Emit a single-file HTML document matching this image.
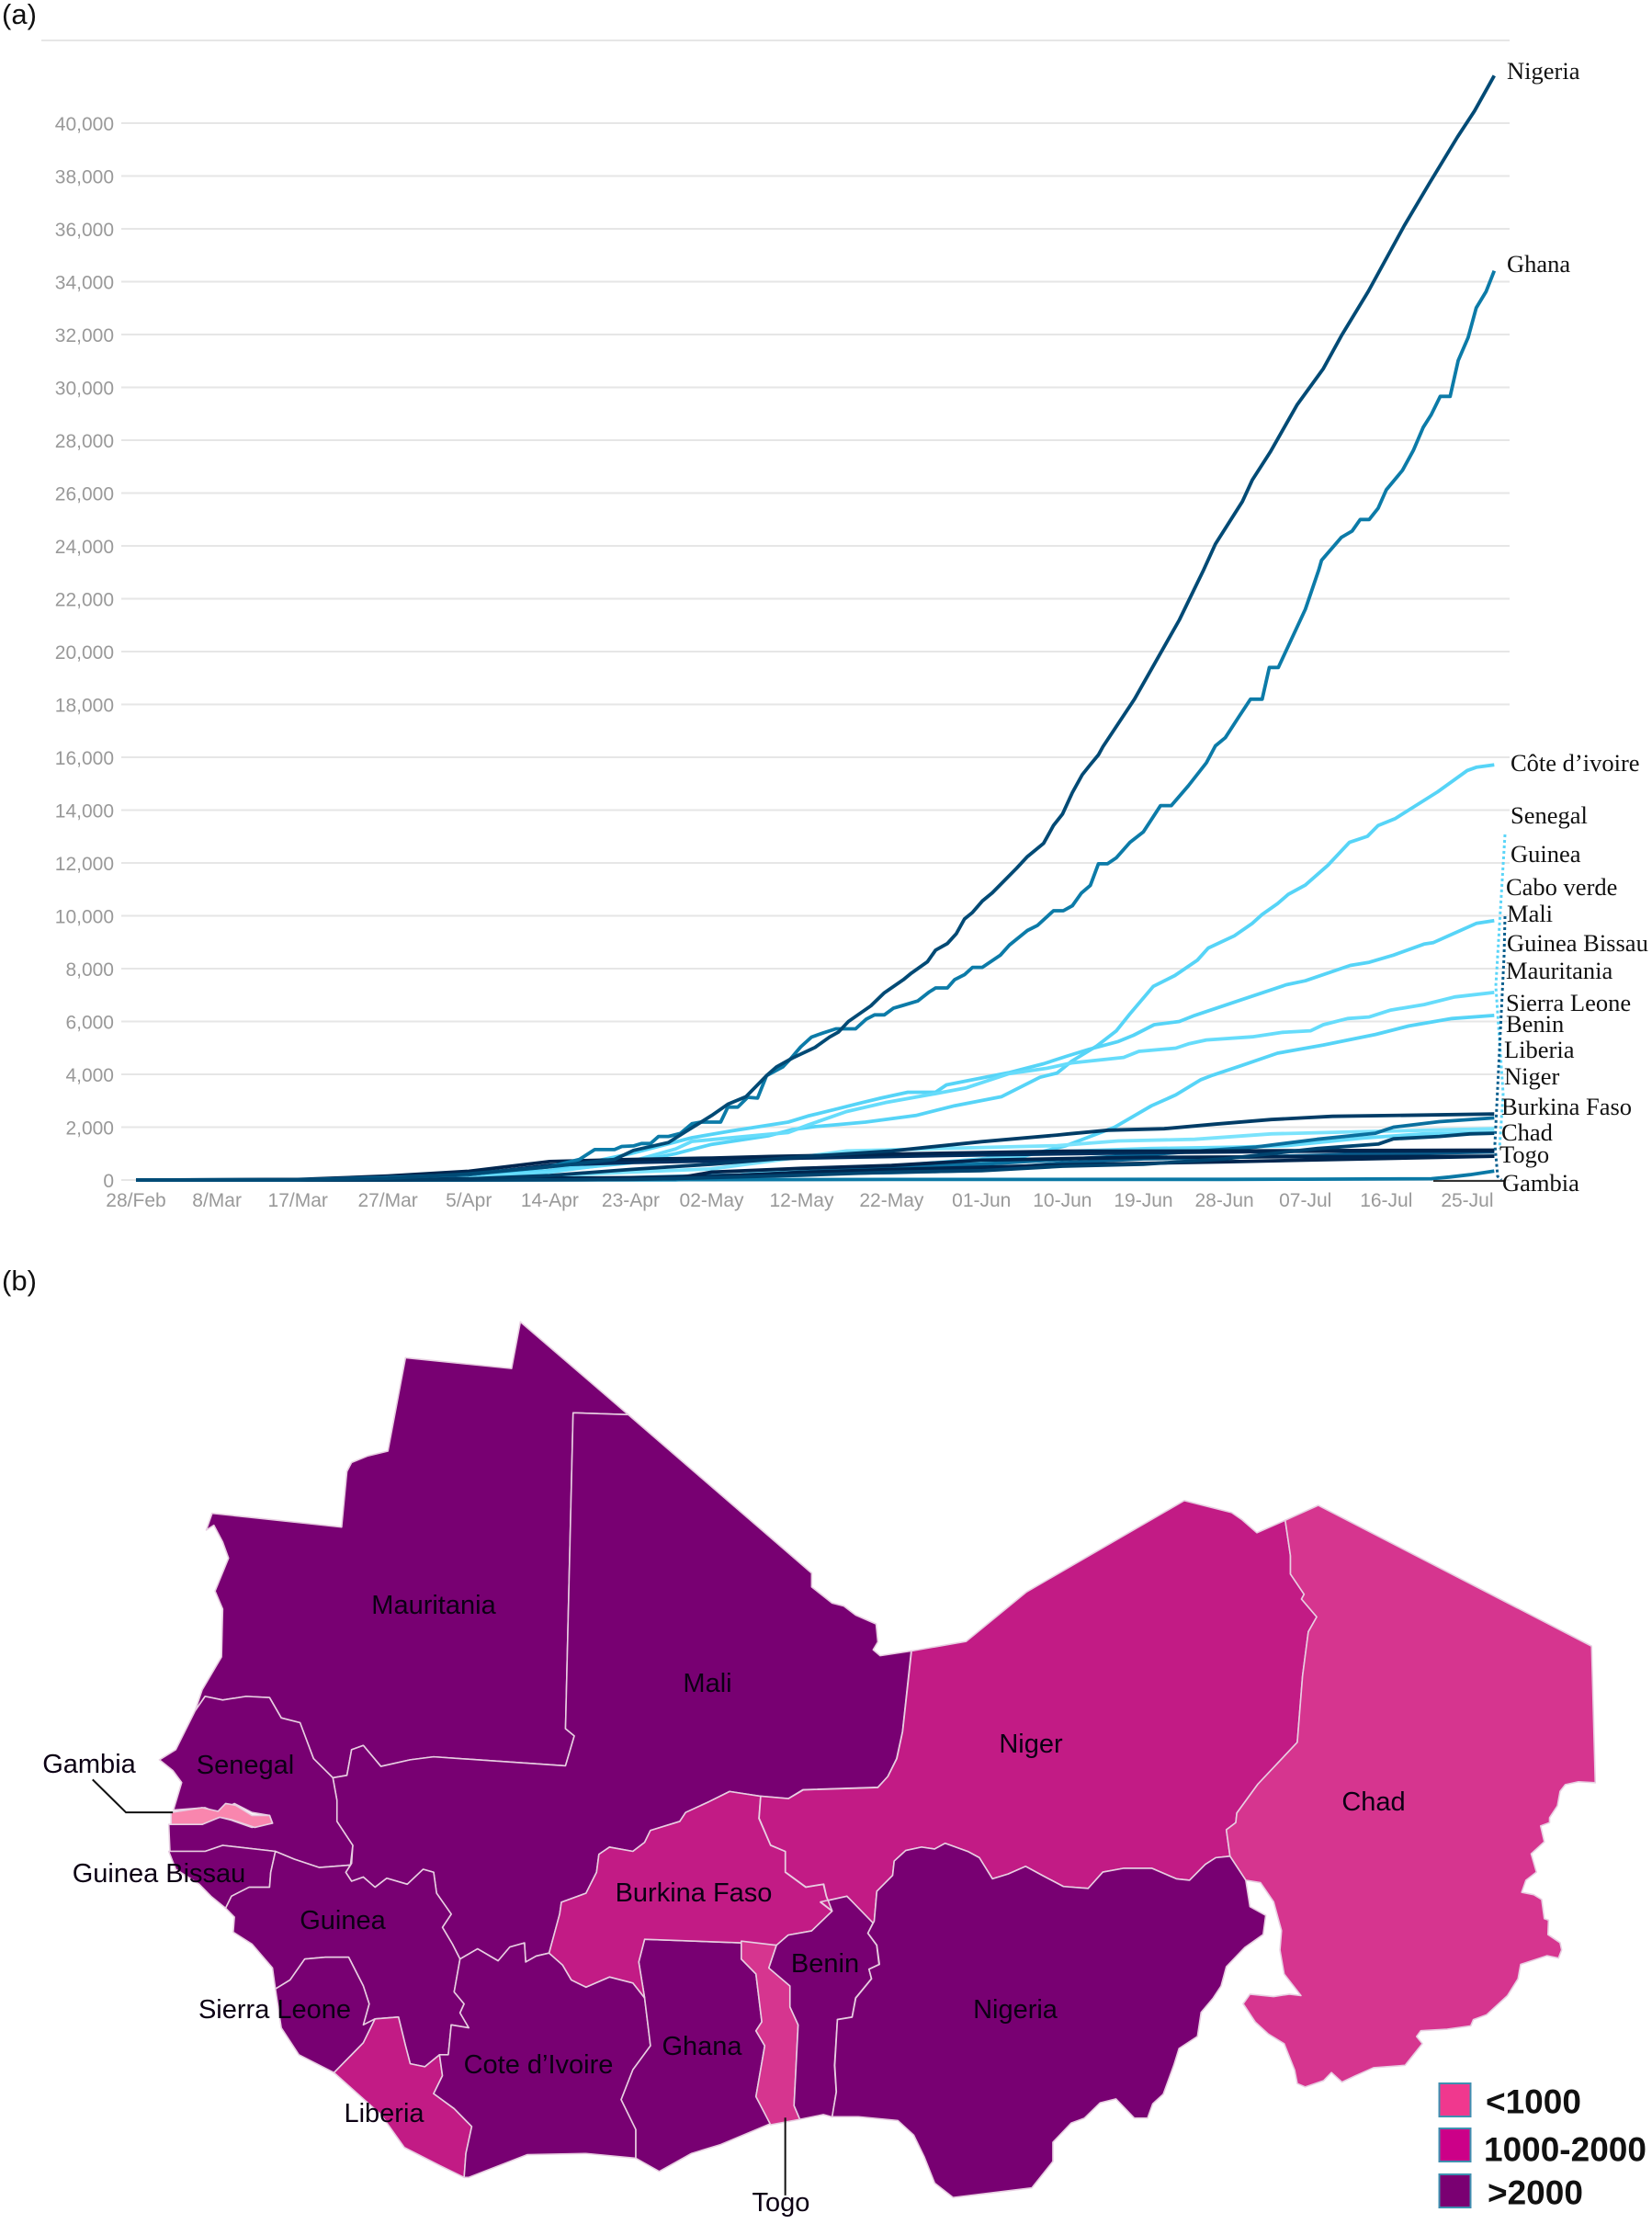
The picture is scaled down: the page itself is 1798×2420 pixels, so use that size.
<!DOCTYPE html>
<html lang="en">
<head>
<meta charset="utf-8">
<title>COVID-19 cases in West Africa</title>
<style>
html,body{margin:0;padding:0;background:#fff;}
svg{display:block;}
.panel{font-family:"Liberation Sans",sans-serif;font-size:31px;fill:#111;}
.tick{font-family:"Liberation Sans",sans-serif;font-size:21px;fill:#999;}
.end{font-family:"Liberation Serif",serif;font-size:26.5px;fill:#111;dominant-baseline:central;}
.ml{font-family:"Liberation Sans",sans-serif;font-size:29px;fill:#0c0014;text-anchor:middle;dominant-baseline:central;}
.lg{font-family:"Liberation Sans",sans-serif;font-size:37px;font-weight:bold;fill:#111;dominant-baseline:central;}
.c{stroke:#e8cfe2;stroke-width:1.6;vector-effect:non-scaling-stroke;stroke-linejoin:round;}
.g{fill:none;stroke:#111;stroke-width:2;vector-effect:non-scaling-stroke;}
.dark{fill:#780072;}.mid{fill:#c21b85;}.low{fill:#d6358f;}
</style>
</head>
<body>
<svg id="fig" xmlns="http://www.w3.org/2000/svg" width="1798" height="2420" viewBox="0 0 1798 2420">
<rect width="1798" height="2420" fill="#fff"/>
<text class="panel" x="2" y="26">(a)</text>
<text class="panel" x="2" y="1404">(b)</text>

<g id="chart"></g>

<g fill="none" stroke-width="3" stroke-dasharray="3 3">
<path d="M1638,908 L1628,1073 L1636,1190 L1632,1250" stroke="#5ad5f8"/>
<path d="M1638,997 L1637,1040 L1627,1245 L1630,1280 L1634,1284" stroke="#0a5f8e"/>
</g>
<line x1="1560" y1="1285" x2="1638" y2="1285" stroke="#333" stroke-width="2"/>

<g>
<text class="end" x="1640" y="77">Nigeria</text>
<text class="end" x="1640" y="287">Ghana</text>
<text class="end" x="1644" y="830">Côte d’ivoire</text>
<text class="end" x="1644" y="887">Senegal</text>
<text class="end" x="1644" y="929">Guinea</text>
<text class="end" x="1639" y="965">Cabo verde</text>
<text class="end" x="1640" y="994">Mali</text>
<text class="end" x="1640" y="1026">Guinea Bissau</text>
<text class="end" x="1639" y="1056">Mauritania</text>
<text class="end" x="1639" y="1091">Sierra Leone</text>
<text class="end" x="1639" y="1114">Benin</text>
<text class="end" x="1637" y="1142">Liberia</text>
<text class="end" x="1637" y="1171">Niger</text>
<text class="end" x="1634" y="1204">Burkina Faso</text>
<text class="end" x="1634" y="1232">Chad</text>
<text class="end" x="1632" y="1256">Togo</text>
<text class="end" x="1635" y="1287">Gambia</text>
</g>

<g>
<g transform="translate(0,1399.3) scale(.6378,.651)">
<polygon class="c dark" points="888,60 1072,215 978,212 965,740 980,752 965,802 740,787 700,792 650,803 620,768 600,775 592,818 568,822 535,790 512,730 480,722 460,688 420,686 380,692 350,686 333,710 345,675 378,620 380,540 367,510 390,455 380,428 365,400 352,408 362,380 583,403 592,310 600,295 628,284 662,276 692,120 873,138"/>
<polygon class="c dark" points="978,212 1072,215 1385,480 1385,503 1420,530 1440,535 1460,550 1495,565 1498,595 1490,608 1502,618 1555,610 1540,745 1530,790 1515,820 1498,838 1370,842 1345,857 1298,853 1245,845 1210,862 1170,880 1160,895 1110,910 1100,930 1080,945 1040,938 1022,950 1018,980 1000,1015 958,1030 955,1050 937,1115 915,1120 897,1130 895,1098 870,1105 850,1128 815,1108 785,1125 772,1100 755,1072 770,1050 745,1015 740,980 722,975 695,1000 660,990 640,1005 620,988 600,995 590,980 600,965 602,935 575,895 575,860 568,822 592,818 600,775 620,768 650,803 700,792 740,787 965,802 980,752 965,740"/>
<polygon class="c dark" points="350,686 380,692 420,686 460,688 480,722 512,730 535,790 568,822 575,860 575,895 602,935 598,968 545,972 502,958 470,945 380,935 350,945 290,945 288,900 345,900 345,898 375,888 395,893 430,905 465,898 460,885 430,880 400,865 370,880 350,872 296,876 310,830 295,810 272,792 300,775 333,710"/>
<polygon class="c" fill="#f986ae" points="292,880 345,872 372,878 385,865 402,868 430,885 460,885 465,898 435,905 395,892 375,888 345,900 292,900"/>
<polygon class="c dark" points="288,945 350,945 380,935 470,945 462,980 460,1005 425,1005 395,1020 385,1040 360,1020 340,1000 300,975"/>
<polygon class="c dark" points="385,1040 395,1020 425,1005 460,1005 462,980 470,945 502,958 545,972 598,968 590,980 600,995 620,988 640,1005 660,990 695,1000 722,975 740,980 745,1015 770,1050 755,1072 772,1100 785,1125 775,1180 792,1200 785,1215 800,1240 770,1235 765,1285 750,1285 725,1305 700,1300 692,1270 680,1222 640,1225 620,1235 630,1200 620,1170 595,1122 555,1122 520,1125 495,1160 470,1175 465,1140 430,1100 398,1080 400,1055"/>
<polygon class="c dark" points="470,1175 495,1160 520,1125 555,1122 595,1122 620,1170 630,1200 620,1235 640,1225 620,1265 570,1315 510,1285 480,1240"/>
<polygon class="c mid" points="570,1315 620,1265 640,1225 680,1222 692,1270 700,1300 725,1305 750,1285 755,1320 740,1350 775,1375 805,1405 795,1450 792,1490 750,1470 690,1440 650,1385"/>
<polygon class="c dark" points="785,1125 815,1108 850,1128 870,1105 895,1098 897,1130 915,1120 937,1115 960,1135 975,1160 1000,1172 1040,1155 1080,1165 1100,1190 1110,1270 1080,1310 1060,1360 1085,1410 1085,1458 1000,1450 900,1452 800,1490 792,1490 795,1450 805,1405 775,1375 740,1350 755,1320 750,1285 765,1285 770,1235 800,1240 785,1215 792,1200 775,1180"/>
<polygon class="c dark" points="1100,1092 1265,1098 1265,1125 1290,1150 1300,1230 1290,1245 1305,1270 1290,1355 1315,1400 1230,1435 1180,1450 1125,1480 1085,1458 1085,1410 1060,1360 1080,1310 1110,1270 1100,1190 1090,1130"/>
<polygon class="c mid" points="937,1115 955,1050 958,1030 1000,1015 1018,980 1022,950 1040,938 1080,945 1100,930 1110,910 1160,895 1170,880 1210,862 1245,845 1298,853 1295,890 1315,935 1340,945 1340,980 1375,1005 1405,1000 1410,1020 1420,1045 1385,1078 1345,1085 1325,1102 1265,1098 1100,1092 1090,1130 1100,1190 1080,1165 1040,1155 1000,1172 975,1160 960,1135"/>
<polygon class="c low" points="1265,1095 1325,1102 1312,1140 1348,1170 1348,1205 1362,1235 1355,1370 1365,1393 1315,1402 1290,1355 1305,1270 1290,1245 1300,1230 1290,1150 1265,1125"/>
<polygon class="c dark" points="1325,1102 1345,1085 1385,1078 1420,1045 1400,1030 1445,1020 1491,1062 1481,1082 1496,1102 1500,1134 1483,1142 1487,1158 1460,1190 1454,1222 1429,1226 1424,1303 1427,1347 1420,1389 1405,1385 1365,1393 1355,1370 1362,1235 1348,1205 1348,1170 1312,1140"/>
<path class="g" d="M158,825 L215,880 L295,880"/>
<path class="g" d="M1340,1390 L1340,1520"/>
</g>
<g transform="translate(900,1598.8) scale(.572,.523)">
<polygon class="c mid" points="161,378 265,358 380,255 680,65 770,90 790,105 818,132 872,106 882,180 882,218 908,260 903,270 932,307 916,338 905,430 895,568 820,655 780,715 778,735 760,750 767,805 740,808 720,822 690,855 665,852 618,830 565,830 525,838 497,872 450,868 410,845 378,826 345,842 315,852 290,808 268,795 225,778 205,790 180,786 150,793 128,815 125,845 95,878 90,940 88,944 38,888 -12,900 10,919 -1,888 -6,863 -40,869 -79,838 -79,795 -107,782 -129,726 -126,680 -73,685 -45,667 97,662 116,639 133,602 144,546"/>
<polygon class="c low" points="872,106 935,75 1455,368 1462,652 1430,650 1405,656 1395,670 1390,700 1375,725 1375,735 1358,742 1365,775 1340,800 1350,838 1330,855 1322,880 1345,885 1360,895 1365,935 1373,938 1372,968 1395,985 1398,1000 1392,1017 1370,1012 1320,1030 1315,1060 1295,1095 1255,1135 1230,1145 1225,1158 1180,1165 1130,1168 1122,1180 1133,1195 1100,1240 1040,1245 1005,1262 980,1275 960,1255 945,1272 910,1285 895,1278 890,1250 870,1195 840,1175 815,1150 792,1112 805,1092 850,1097 880,1092 902,1095 870,1050 862,1000 865,960 850,900 825,860 797,855 767,805 760,750 778,735 780,715 820,655 895,568 905,430 916,338 932,307 903,270 908,260 882,218 882,180"/>
<polygon class="c dark" points="90,940 95,878 125,845 128,815 150,793 180,786 205,790 225,778 268,795 290,808 315,852 345,842 378,826 410,845 450,868 497,872 525,838 565,830 618,830 665,852 690,855 720,822 740,808 767,805 797,855 805,910 835,928 830,968 795,995 760,1035 750,1075 735,1100 712,1130 705,1180 670,1205 660,1240 640,1300 620,1320 610,1350 585,1350 550,1310 520,1318 490,1350 465,1360 430,1400 430,1440 390,1495 315,1505 240,1515 205,1485 185,1430 165,1385 135,1355 60,1347 10,1347 18,1295 15,1240 20,1145 48,1140 55,1100 85,1060 80,1040 100,1030 95,990 78,965"/>
</g>
<g>
<text class="ml" x="472" y="1747">Mauritania</text>
<text class="ml" x="770" y="1832">Mali</text>
<text class="ml" x="1122" y="1898">Niger</text>
<text class="ml" x="1495" y="1961">Chad</text>
<text class="ml" x="267" y="1921">Senegal</text>
<text class="ml" x="97" y="1920">Gambia</text>
<text class="ml" x="173" y="2039">Guinea Bissau</text>
<text class="ml" x="373" y="2090">Guinea</text>
<text class="ml" x="755" y="2060">Burkina Faso</text>
<text class="ml" x="898" y="2137">Benin</text>
<text class="ml" x="299" y="2187">Sierra Leone</text>
<text class="ml" x="764" y="2227">Ghana</text>
<text class="ml" x="1105" y="2187">Nigeria</text>
<text class="ml" x="586" y="2247">Cote d’Ivoire</text>
<text class="ml" x="418" y="2300">Liberia</text>
<text class="ml" x="850" y="2397">Togo</text>
</g>
<g>
<rect x="1566.500" y="2267" width="34" height="36" fill="#f0388e" stroke="#3f8fb0" stroke-width="2"/>
<rect x="1566.500" y="2316" width="34" height="36" fill="#cc0088" stroke="#3f8fb0" stroke-width="2"/>
<rect x="1566.500" y="2366" width="34" height="36" fill="#7a0072" stroke="#3f8fb0" stroke-width="2"/>
<text class="lg" x="1617" y="2287">&lt;1000</text>
<text class="lg" x="1615" y="2339">1000-2000</text>
<text class="lg" x="1619" y="2386">&gt;2000</text>
</g>
</g>
</svg>
<script>
const xTickDays = [0,9,18,28,37,46,55,64,74,84,94,103,112,121,130,139,148];
const xTickLabels = ["28/Feb","8/Mar","17/Mar","27/Mar","5/Apr","14-Apr","23-Apr","02-May","12-May","22-May","01-Jun","10-Jun","19-Jun","28-Jun","07-Jul","16-Jul","25-Jul"];
const yTicks = [0,2000,4000,6000,8000,10000,12000,14000,16000,18000,20000,22000,24000,26000,28000,30000,32000,34000,36000,38000,40000];

const coteDivoireDays = [0,18,28,37,46,55,60,64,70.4,73,75.5,81.1,86.7,91,96.2,100.5,102.4,104,106.8,109,110.5,113.1,115.5,118,119.2,122.1,124.1,125.2,126.9,128.1,130,132.5,134.9,136.9,138.1,140,142,144.7,148,149,151];
const coteDivoireCases = [0,10,60,150,350,650,1000,1350,1680,1910,2020,2190,2440,2810,3150,3890,4050,4490,5070,5650,6290,7330,7740,8320,8780,9240,9710,10050,10460,10810,11160,11910,12780,13010,13420,13680,14110,14690,15500,15620,15710];
const senegalDays = [0,18,28,37,46,55,61.8,66.1,72.5,74.7,77.7,80.7,82.8,85.8,88.9,90.1,92.3,97,100.9,103.4,106,109.2,110.9,113.2,116,117.7,122.8,127.9,130,135,137.1,139.8,143.2,144.2,149,151];
const senegalCases = [0,10,60,150,350,1000,1600,1850,2190,2420,2670,2930,3100,3320,3320,3600,3750,4060,4400,4680,4950,5240,5480,5880,6000,6230,6810,7390,7540,8120,8240,8510,8930,8980,9710,9820];
const guineaDays = [0,18,28,37,46,55,60,61.8,72.5,74.7,79,83.3,88.9,92.3,97,101.3,104,109.8,111.5,115.6,117,119,124.1,127.5,130.6,132,134.7,137.1,139.5,143.2,146.6,151];
const guineaCases = [0,5,40,120,300,700,1175,1460,1800,2080,2590,2930,3270,3490,4020,4230,4430,4640,4870,4990,5150,5300,5420,5590,5650,5880,6110,6170,6430,6640,6930,7100];
const mauritaniaDays = [0,46,60,70,83,92,96,103.4,108.8,112.9,115.6,118.4,119.7,122.8,126.9,132,137.8,141.5,146.3,151];
const mauritaniaCases = [0,5,8,270,500,600,670,1300,2000,2810,3220,3800,3970,4320,4800,5110,5510,5830,6110,6230];
const guineaBissauDays = [0,28,37,46,55,64,79,88,102.4,109.2,117.7,126.2,136.4,151];
const guineaBissauCases = [0,10,60,150,300,420,1100,1180,1300,1480,1540,1745,1830,1940];
const beninDays = [0,37,46,55,64,74,84,94,102.4,112.6,122.8,127.9,136.4,143.2,151];
const beninCases = [0,5,20,40,100,400,520,800,1070,1190,1250,1300,1590,1745,1800];
const caboVerdeDays = [0,37,46,55,64,74,84,94,103,112,124.5,131.3,137.8,139.8,144.9,151];
const caboVerdeCases = [0,5,15,40,100,300,500,600,780,950,1250,1540,1770,2000,2210,2350];
const gambiaDays = [0,46,84,121,130,144,146,148.3,151];
const gambiaCases = [0,9,20,25,30,50,110,203,340];
const liberiaDays = [0,28,46,55,64,74,84,94,103,112,121,139,151];
const liberiaCases = [0,2,40,90,170,240,280,370,650,800,850,1000,1060];
const togoDays = [0,28,37,46,55,64,74,84,94,103,121,130,151];
const togoCases = [0,5,30,70,85,130,290,400,480,570,690,750,900];
const chadDays = [0,28,46,60,64,74,84,94,112,130,151];
const chadCases = [0,5,30,60,300,440,550,750,860,880,900];
const nigerDays = [0,28,37,46,55,64,74,94,112,130,151];
const nigerCases = [0,20,200,560,660,720,830,950,1030,1090,1100];
const burkinaFasoDays = [0,18,28,37,46,55,64,70.4,84,103,121,139,151];
const burkinaFasoCases = [0,20,150,330,700,780,830,890,980,1090,1100,1120,1130];
const sierraLeoneDays = [0,46,55,64,74,84,94,103,112,121,131.3,138.1,139.8,144.9,148.3,151];
const sierraLeoneCases = [0,5,20,90,180,300,350,520,600,800,1190,1360,1560,1650,1745,1770];
const maliDays = [0,28,37,46,55,64,74,84,94,102.4,103.7,108.1,114.3,120,126.2,133,143.2,151];
const maliCases = [0,15,40,170,400,600,880,1100,1450,1700,1745,1885,1940,2115,2290,2410,2460,2500];
const ghanaDays = [0,9,18,28,37,46,49.3,51,53.2,54,55.3,56.2,57.2,58.1,59.2,60.5,61.8,62.8,65,65.8,66.9,68,69.1,70.1,71.9,72.8,73.9,75.1,76.4,77.8,80,81.2,82.1,83.2,84.2,85.1,86.9,88.2,88.9,90.2,91,92.1,93,94.1,96.1,97.1,99.1,100.2,102,103.1,104.1,105.1,106.1,107,108,109,110.5,112,113.9,115.1,117,119,120,121.1,122.6,123.9,125.2,126,127,130,131.5,131.8,134,135.2,136.1,137.1,138.1,139,140.8,142,143.1,144,145,146.1,147,148.1,149,150.1,151];
const ghanaCases = [0,0,8,90,210,500,780,1150,1150,1270,1290,1380,1380,1650,1650,1760,2130,2190,2190,2760,2760,3130,3100,3950,4280,4600,5040,5410,5570,5720,5720,6090,6250,6250,6500,6590,6775,7120,7270,7270,7580,7770,8050,8050,8510,8890,9445,9630,10190,10190,10380,10860,11150,11970,11970,12200,12780,13180,14170,14170,14920,15790,16430,16740,17530,18200,18200,19400,19400,21600,23100,23450,24320,24560,25000,25000,25430,26120,26860,27610,28480,28970,29660,29660,31020,31890,33010,33630,34410];
const nigeriaDays = [0,9,18,28,37,46,53.2,55.3,59.2,61.1,64,65.8,67.8,70.1,71.2,73,75.5,77.1,78.1,79.2,81.7,83.2,85.3,86.2,88,88.9,90.2,91.2,92.1,93,94.1,95.2,97.9,99.1,100.9,102,103,104.1,105.2,106.1,107,107.5,111,116,118.7,120,123,124.1,126.1,129.1,132,134,137,141,143.8,146.9,148.8,151];
const nigeriaCases = [1,1,3,65,232,500,780,1120,1420,1830,2440,2870,3150,3950,4280,4620,5020,5410,5600,6000,6590,7085,7580,7830,8265,8700,8950,9320,9880,10130,10560,10870,11800,12240,12740,13420,13850,14660,15340,15720,16090,16400,18200,21200,23100,24070,25680,26490,27550,29350,30710,31950,33630,36120,37730,39470,40460,41800];

const seriesNames = ["cote-divoire","senegal","guinea","mauritania","guinea-bissau","benin","cabo-verde","gambia","liberia","togo","chad","niger","burkina-faso","sierra-leone","mali","ghana","nigeria"];
const seriesDays = [coteDivoireDays,senegalDays,guineaDays,mauritaniaDays,guineaBissauDays,beninDays,caboVerdeDays,gambiaDays,liberiaDays,togoDays,chadDays,nigerDays,burkinaFasoDays,sierraLeoneDays,maliDays,ghanaDays,nigeriaDays];
const seriesCases = [coteDivoireCases,senegalCases,guineaCases,mauritaniaCases,guineaBissauCases,beninCases,caboVerdeCases,gambiaCases,liberiaCases,togoCases,chadCases,nigerCases,burkinaFasoCases,sierraLeoneCases,maliCases,ghanaCases,nigeriaCases];
const seriesColors = ["#56d4f7","#56d4f7","#66dcfb","#56d4f7","#7be3fc","#66dcfb","#0a6f9e","#0a78a5","#0a5f8e","#00264f","#00264f","#003060","#00264f","#00446f","#003c66","#0c7ba8","#014a75"];

const NS = "http://www.w3.org/2000/svg";
const chart = document.getElementById("chart");
function xScale(d){ return 148 + 9.79 * d; }
function yScale(v){ return 1284 - 0.02875 * v; }

const topGrid = document.createElementNS(NS, "line");


topGrid.setAttribute("x1", 45);
topGrid.setAttribute("x2", 1643);
topGrid.setAttribute("y1", 44);
topGrid.setAttribute("y2", 44);
topGrid.setAttribute("stroke", "#e6e6e6");
topGrid.setAttribute("stroke-width", 2);
chart.appendChild(topGrid);

yTicks.forEach(function(v){
  const line = document.createElementNS(NS, "line");
  
  
  line.setAttribute("x1", 132);
  line.setAttribute("x2", 1643);
  line.setAttribute("y1", yScale(v));
  line.setAttribute("y2", yScale(v));
  line.setAttribute("stroke", "#e6e6e6");
  line.setAttribute("stroke-width", 2);
  chart.appendChild(line);
  const label = document.createElementNS(NS, "text");
  
  
  label.setAttribute("class", "tick");
  label.setAttribute("x", 124);
  label.setAttribute("y", yScale(v) + 8);
  label.setAttribute("text-anchor", "end");
  label.textContent = v.toLocaleString("en-US");
  chart.appendChild(label);
});

xTickDays.forEach(function(d, i){
  const label = document.createElementNS(NS, "text");
  
  
  label.setAttribute("class", "tick");
  label.setAttribute("x", xScale(d));
  label.setAttribute("y", 1313);
  label.setAttribute("text-anchor", "middle");
  label.textContent = xTickLabels[i];
  chart.appendChild(label);
});

seriesCases.forEach(function(vals, i){
  const path = document.createElementNS(NS, "path");
  
  
  path.setAttribute("d", vals.map(function(v, k){
    return (k ? "L" : "M") + xScale(seriesDays[i][k]).toFixed(1) + "," + yScale(v).toFixed(1);
  }).join(" "));
  path.setAttribute("fill", "none");
  path.setAttribute("stroke", seriesColors[i]);
  path.setAttribute("stroke-width", 3.8);
  path.setAttribute("stroke-linejoin", "round");
  chart.appendChild(path);
});
</script>
</body>
</html>
